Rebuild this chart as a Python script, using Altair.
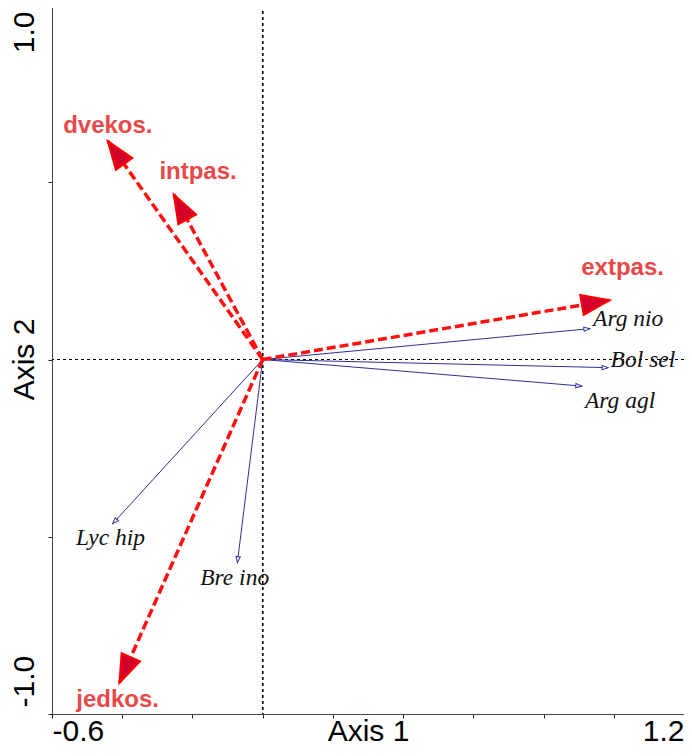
import altair as alt
import pandas as pd
import numpy as np

# ---- data ----
species = ["Arg nio", "Bol sel", "Arg agl", "Lyc hip", "Bre ino"]
sp_x = [0.932, 0.984, 0.909, -0.427, -0.072]
sp_y = [0.087, -0.023, -0.075, -0.463, -0.573]
sp_lx = [0.941, 0.991, 0.918, -0.532, -0.178]
sp_ly = [0.094, -0.021, -0.136, -0.522, -0.637]

env = ["dvekos.", "intpas.", "extpas.", "jedkos."]
env_x = [-0.441, -0.253, 0.988, -0.408]
env_y = [0.616, 0.465, 0.167, -0.912]
env_lx = [-0.441, -0.184, 1.025, -0.413]
env_ly = [0.639, 0.508, 0.237, -0.979]

x_ticks = [-0.6, -0.4, -0.2, 0.0, 0.2, 0.4, 0.6, 0.8, 1.0, 1.2]
y_ticks = [-1.0, -0.5, 0.0, 0.5, 1.0]

sp = pd.DataFrame({"name": species, "x": sp_x, "y": sp_y, "lx": sp_lx, "ly": sp_ly})
sp["ox"] = 0.0
sp["oy"] = 0.0
sp["ang"] = np.mod(np.degrees(np.arctan2(sp["x"], sp["y"])), 360)

ev = pd.DataFrame({"name": env, "x": env_x, "y": env_y, "lx": env_lx, "ly": env_ly})
ev["ox"] = 0.0
ev["oy"] = 0.0
ev["ang"] = np.mod(np.degrees(np.arctan2(ev["x"], ev["y"])), 360)

FONT = "Liberation Sans"
xs = alt.Scale(domain=[-0.6, 1.2], nice=False, zero=False)
ys = alt.Scale(domain=[-1.0, 1.0], nice=False, zero=False)

xaxis = alt.Axis(
    values=x_ticks,
    labelExpr="abs(datum.value + 0.6) < 1e-6 ? '-0.6' : (abs(datum.value - 1.2) < 1e-6 ? '1.2' : '')",
    labelFlush=True, labelOverlap=False, labelFont=FONT, labelFontSize=30,
    labelColor="black", labelBaseline="alphabetic", labelPadding=22,
    tickSize=4, tickColor="#222", domainColor="#444", grid=False,
    titleFont=FONT, titleFontSize=30, titleFontWeight="normal", titleColor="black",
    titleY=26, titleBaseline="alphabetic",
)
yaxis = alt.Axis(
    values=y_ticks,
    labelExpr="datum.value > 0.99 ? '1.0' : (datum.value < -0.99 ? '-1.0' : '')",
    labelAngle=270, labelAlign={"expr": "datum.value > 0 ? 'right' : 'left'"},
    labelOffset={"expr": "datum.value > 0 ? 6 : -7"},
    labelBaseline="middle", labelOverlap=False, labelFont=FONT, labelFontSize=30,
    labelColor="black", labelPadding=24, tickSize=4, tickColor="#222",
    domainColor="#444", grid=False,
    titleFont=FONT, titleFontSize=30, titleFontWeight="normal", titleColor="black",
    titleX=-28, titleY=354, titleAlign="center", titleBaseline="middle", titleAngle=270,
)


def X(f):
    return alt.X(f, type="quantitative", scale=xs, axis=xaxis, title="Axis 1")


def Y(f):
    return alt.Y(f, type="quantitative", scale=ys, axis=yaxis, title="Axis 2")


zero_v = alt.Chart(sp).mark_rule(color="black", strokeDash=[3, 3], strokeWidth=1).encode(
    x=alt.datum(0.0, scale=xs, axis=xaxis, title="Axis 1"))
zero_h = alt.Chart(sp).mark_rule(color="black", strokeDash=[3, 3], strokeWidth=1).encode(
    y=alt.datum(0.0, scale=ys, axis=yaxis, title="Axis 2"))

NAVY = "#2e2e96"
sp_lines = alt.Chart(sp).mark_rule(color=NAVY, strokeWidth=1).encode(
    x=X("ox"), y=Y("oy"), x2="x", y2="y")
sp_heads = alt.Chart(sp).mark_point(
    shape="M0,0L-0.36,1L0.36,1Z", size=144, filled=True, fill="white",
    stroke=NAVY, strokeWidth=1, opacity=1).encode(
    x=X("x"), y=Y("y"), angle=alt.Angle("ang:Q", scale=None))
sp_text = alt.Chart(sp).mark_text(
    font="Liberation Serif", fontStyle="italic", fontSize=23.5, color="#111",
    align="left", baseline="alphabetic").encode(
    x=X("lx"), y=Y("ly"), text="name:N")

RED = "#ff1010"
ev_lines = alt.Chart(ev).mark_rule(color=RED, strokeWidth=3.5, strokeDash=[9, 4]).encode(
    x=X("ox"), y=Y("oy"), x2="x", y2="y")
ev_heads = alt.Chart(ev).mark_point(
    shape="M0,0L-0.36,1L0.36,1Z", size=3136, filled=True, fill="#d4002c",
    stroke="#ff0000", strokeWidth=2, opacity=1).encode(
    x=X("x"), y=Y("y"), angle=alt.Angle("ang:Q", scale=None))
ev_text = alt.Chart(ev).mark_text(
    font=FONT, fontWeight="bold", fontSize=24, color="#e84848",
    align="center", baseline="alphabetic").encode(
    x=X("lx"), y=Y("ly"), text="name:N")

chart = alt.layer(
    zero_v, zero_h, sp_lines, sp_heads, ev_lines, ev_heads, sp_text, ev_text
).properties(
    width=632, height=709,
    autosize=alt.AutoSizeParams(type="none"),
    padding={"left": 44, "top": -3, "right": 0, "bottom": 33},
).configure_view(stroke="#444", strokeWidth=1.5).configure(background="white")

chart.save("out.html", embed_options={"renderer": "svg", "actions": False})
